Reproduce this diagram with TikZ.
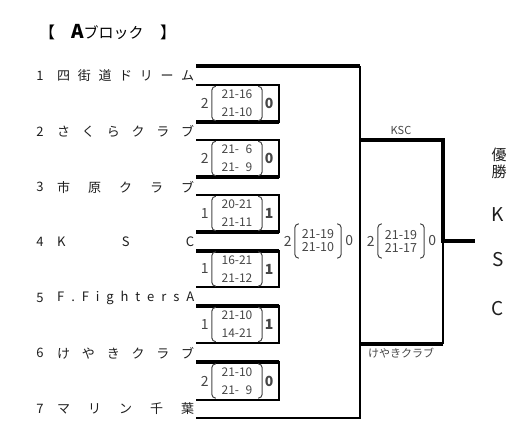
\documentclass[tikz,border=0pt]{standalone}
\usepackage{fontspec}
\setmainfont{Noto Sans CJK JP}
\usetikzlibrary{positioning, calc}
\definecolor{InkGray}{RGB}{30, 30, 30}
\definecolor{ScoreGray}{RGB}{70, 70, 70}

\begin{document}
\begin{tikzpicture}[x=1pt, y=-1pt,
    thinln/.style={line width=1.7pt},
    boldln/.style={line width=3.8pt},
    teamno/.style={font=\fontsize{13}{13}\selectfont, text=InkGray, inner sep=0pt},
    teamname/.style={teamno, anchor=west},
    scores/.style={align=center, text=ScoreGray, inner sep=0pt, minimum width=50pt, minimum height=34pt, font=\fontsize{12}{18}\selectfont},
    finalscores/.style={scores, minimum width=46pt, font=\fontsize{12.5}{13}\selectfont},
    paren/.style={draw=ScoreGray, line width=1pt, rounded corners=4pt},
    side/.style={text=ScoreGray, inner sep=0pt, font=\fontsize{14}{14}\selectfont},
    lbl/.style={text=ScoreGray, inner sep=0pt, font=\fontsize{11}{11}\selectfont},
    champ/.style={text=InkGray, inner sep=0pt}
  ]
  \useasboundingbox (0,0) rectangle (528,441);

  % title
  \node[inner sep=0pt, font=\fontsize{16}{16}\selectfont] (lbrk) at (47,32) {【};
  \node[inner sep=0pt, anchor=west, font=\fontsize{15}{15}\selectfont] (ttl) at (71,32) {{\fontsize{19}{19}\selectfont\bfseries A}ブロック};
  \node[inner sep=0pt, font=\fontsize{16}{16}\selectfont] (rbrk) at (168,32) {】};

  % teams
  \foreach \n/\y/\name in {
      1/76/{四\hfil 街\hfil 道\hfil ド\hfil リ\hfil ー\hfil ム},
      2/131.5/{さ\hfil く\hfil ら\hfil ク\hfil ラ\hfil ブ},
      3/187/{市\hfil 原\hfil ク\hfil ラ\hfil ブ},
      4/242/{K\hfil S\hfil C},
      5/297.5/{F\hfil .\hfil F\hfil i\hfil g\hfil h\hfil t\hfil e\hfil r\hfil s\hfil A},
      6/353/{け\hfil や\hfil き\hfil ク\hfil ラ\hfil ブ},
      7/408.5/{マ\hfil リ\hfil ン\hfil 千\hfil 葉}} {
    \node[teamno] (no\n) at (40,\y) {\n};
    \node[teamname] (team\n) at (57,\y) {\hbox to 137pt{\name}};
  }

  % first round boxes
  \foreach \i/\t/\b/\tw/\bw/\l/\sa/\sb/\r in {
      1/85/122/thinln/boldln/2/21-16/21-10/0,
      2/140/177/thinln/boldln/2/21-\phantom{1}6/21-\phantom{1}9/0,
      3/195/232/thinln/boldln/1/20-21/21-11/1,
      4/251/287/boldln/thinln/1/16-21/21-12/1,
      5/306/343/boldln/thinln/1/21-10/14-21/1,
      6/362/400/boldln/thinln/2/21-10/21-\phantom{1}9/0} {
    \coordinate (nw\i) at (196,\t);
    \coordinate (ne\i) at (279,\t);
    \coordinate (se\i) at (279,\b);
    \coordinate (sw\i) at (196,\b);
    \draw[thinln] (nw\i) -- (ne\i) -- (se\i) -- (sw\i);
    \draw[\tw] (nw\i) -- (ne\i);
    \draw[\bw] (sw\i) -- (se\i);
    \node[scores] (sc\i) at (237,{(\t+\b)/2}) {\sa\\\sb};
    \node[side, anchor=east] (lw\i) at ([xshift=-3pt]sc\i.west) {\l};
    \node[side, anchor=west, font=\fontsize{14}{14}\selectfont\bfseries] (rw\i) at ([xshift=2.5pt]sc\i.east) {\r};
  }

  % outer bracket
  \coordinate (t1w) at (196,66);
  \coordinate (t1e) at (360,66);
  \coordinate (t7w) at (196,418);
  \coordinate (t7e) at (360,418);
  \draw[boldln] (t1w) -- (t1e);
  \draw[thinln] (t1e) -- (t7e) -- (t7w);

  \coordinate (kscw) at (360,140);
  \coordinate (ksce) at (443,140);
  \coordinate (mid) at (443,241);
  \coordinate (win) at (475,241);
  \coordinate (kyke) at (443,344);
  \coordinate (kykw) at (360,344);
  \draw[boldln] (kscw) -- (ksce) -- (mid) -- (win);
  \draw[thinln] (mid) -- (kyke);
  \draw[boldln] (kyke) -- (kykw);

  \node[lbl] (ksc) at (401,130) {KSC};
  \node[lbl] (keyaki) at (401,353) {けやきクラブ};

  % final scores
  \node[finalscores] (sf1) at (318,241) {21-19\\21-10};
  \node[side, anchor=east] (lf1) at ([xshift=-3pt]sf1.west) {2};
  \node[side, anchor=west] (rf1) at ([xshift=4pt]sf1.east) {0};
  \node[finalscores] (sf2) at (401,241) {21-19\\21-17};
  \node[side, anchor=east] (lf2) at ([xshift=-3pt]sf2.west) {2};
  \node[side, anchor=west] (rf2) at ([xshift=4pt]sf2.east) {0};

  \foreach \s in {sc1,sc2,sc3,sc4,sc5,sc6,sf1,sf2} {
    \draw[paren] ([xshift=4pt]\s.north west) -- (\s.north west) -- (\s.south west) -- ([xshift=4pt]\s.south west);
    \draw[paren] ([xshift=-4pt]\s.north east) -- (\s.north east) -- (\s.south east) -- ([xshift=-4pt]\s.south east);
  }

  % champion
  \node[champ, font=\fontsize{15}{15}\selectfont] (yu) at (499,155) {優};
  \node[champ, font=\fontsize{15}{15}\selectfont, below=3pt of yu] (sho) {勝};
  \node[champ, font=\fontsize{19}{19}\selectfont] (ck) at (498,215) {K};
  \node[champ, font=\fontsize{19}{19}\selectfont] (cs) at (498,260) {S};
  \node[champ, font=\fontsize{19}{19}\selectfont] (cc) at (498,309) {C};
\end{tikzpicture}
\end{document}
